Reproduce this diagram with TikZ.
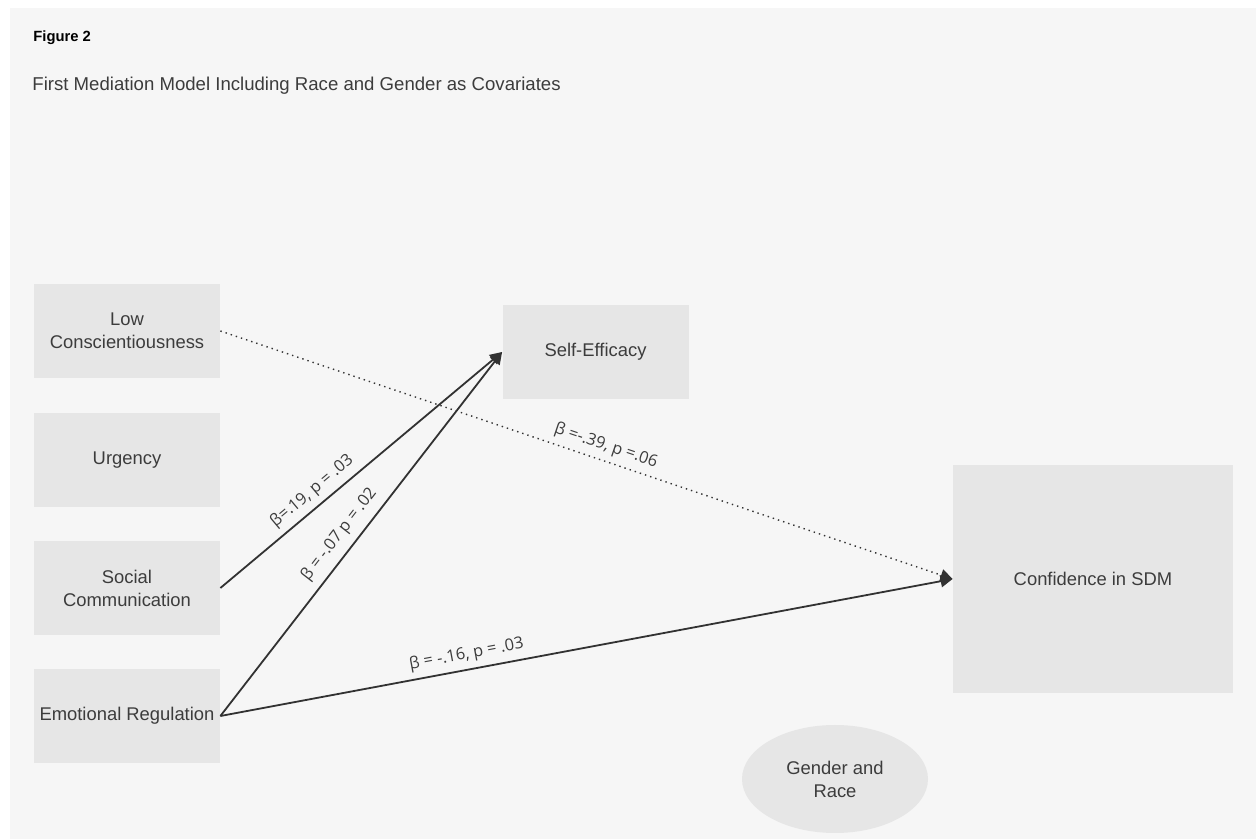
\documentclass[tikz,border=0pt]{standalone}
\usepackage{fontspec}
\setmainfont{Liberation Sans}
\newfontfamily\betafont{Open Sans}
\usetikzlibrary{shapes,arrows.meta,positioning}
\definecolor{PageGray}{RGB}{246, 246, 246}
\definecolor{BoxGray}{RGB}{230, 230, 230}
\definecolor{InkGray}{RGB}{60, 60, 60}
\definecolor{LineGray}{RGB}{50, 50, 50}
\begin{document}
\begin{tikzpicture}[x=0.5pt, y=-0.5pt,
    box/.style={fill=BoxGray, minimum width=93pt, minimum height=47pt, align=center,
      text=InkGray, font=\fontsize{9.2}{11.5}\selectfont, inner sep=0pt},
    path/.style={-{Triangle[length=6pt, width=6pt]}, line width=0.9pt, LineGray},
    coef/.style={sloped, above, text=InkGray, inner sep=1pt, font=\betafont\fontsize{8.2}{10}\selectfont}]
    % Page
    \useasboundingbox (0,0) rectangle (1260,839);
    \fill[white] (0,0) rectangle (1260,839);
    \fill[PageGray] (10,8) rectangle (1256,839);
    
    % Caption
    \node[anchor=west, inner sep=0pt, font=\bfseries\fontsize{7.4}{9}\selectfont] (fig) at (33,38) {Figure 2};
    \node[anchor=west, inner sep=0pt, text=InkGray, font=\fontsize{9.3}{11}\selectfont] (caption) at (32,86)
      {First Mediation Model Including Race and Gender as Covariates};
    
    % Predictors
    \node[box] (lowcon) at (127,331) {Low\\Conscientiousness};
    \node[box] (urgency) at (127,460) {Urgency};
    \node[box] (social) at (127,588) {Social\\Communication};
    \node[box] (emoreg) at (127,716) {Emotional Regulation};
    
    % Mediator and outcome
    \node[box] (selfeff) at (595.5,352) {Self-Efficacy};
    \node[box, minimum width=140pt, minimum height=114pt] (confid) at (1093,579) {Confidence in SDM};
    
    % Covariates
    \node[box, ellipse, minimum width=93pt, minimum height=54pt] (covar) at (835,779) {Gender and\\Race};
    
    % Paths
    \draw[path, line width=0.7pt, dotted] (lowcon.east) -- (confid.west)
      node[coef, pos=0.52, yshift=2pt] {β =-.39, p =.06};
    \draw[path] (social.east) -- (selfeff.west)
      node[coef, pos=0.36, yshift=2pt] {β=.19, p = .03};
    \draw[path] (emoreg.east) -- (selfeff.west)
      node[coef, pos=0.47, yshift=3pt] {β = -.07 p = .02};
    \draw[path] (emoreg.east) -- (confid.west)
      node[coef, pos=0.34, yshift=2pt] {β = -.16, p = .03};
  \end{tikzpicture}
\end{document}
